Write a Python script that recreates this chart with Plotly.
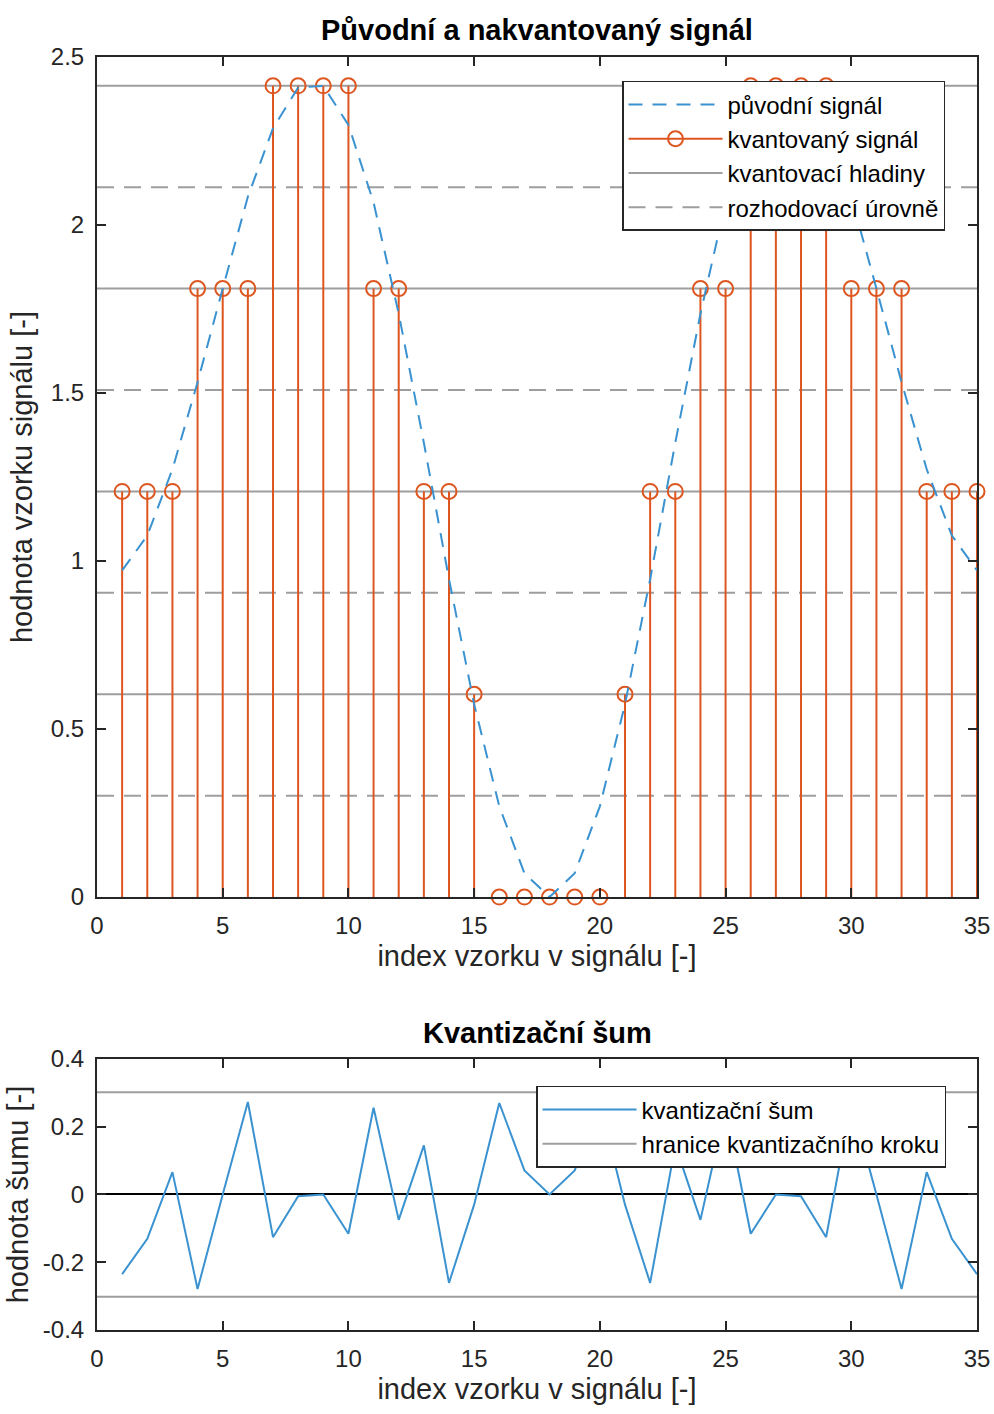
import plotly.graph_objects as go

# ---------------- data ----------------
sample_index = list(range(1, 36))

original_signal = [0.972, 1.076, 1.273, 1.532, 1.811, 2.084, 2.288, 2.409, 2.414, 2.298,
                   2.067, 1.736, 1.352, 0.946, 0.574, 0.270, 0.071, 0.000, 0.071, 0.270,
                   0.574, 0.946, 1.352, 1.736, 2.067, 2.298, 2.414, 2.409, 2.288, 2.084,
                   1.811, 1.532, 1.273, 1.076, 0.972]

quantized_signal = [1.2071, 1.2071, 1.2071, 1.8107, 1.8107, 1.8107, 2.4142, 2.4142, 2.4142, 2.4142,
                    1.8107, 1.8107, 1.2071, 1.2071, 0.6036, 0.0, 0.0, 0.0, 0.0, 0.0,
                    0.6036, 1.2071, 1.2071, 1.8107, 1.8107, 2.4142, 2.4142, 2.4142, 2.4142, 1.8107,
                    1.8107, 1.8107, 1.2071, 1.2071, 1.2071]

quant_noise = [-0.235, -0.131, 0.066, -0.279, 0.000, 0.273, -0.126, -0.005, 0.000, -0.116,
               0.256, -0.075, 0.145, -0.261, -0.030, 0.270, 0.071, 0.000, 0.071, 0.270,
               -0.030, -0.261, 0.145, -0.075, 0.256, -0.116, 0.000, -0.005, -0.126, 0.273,
               0.000, -0.279, 0.066, -0.131, -0.235]

quant_levels = [0.6036, 1.2071, 1.8107, 2.4142]
decision_levels = [0.3018, 0.9053, 1.5089, 2.1125]
step_bounds = [-0.3018, 0.3018]

x_range = [0, 35]
x_ticks = [0, 5, 10, 15, 20, 25, 30, 35]
y1_ticks = [0, 0.5, 1, 1.5, 2, 2.5]
y1_ticktext = ["0", "0.5", "1", "1.5", "2", "2.5"]
y2_ticks = [-0.4, -0.2, 0, 0.2, 0.4]
y2_ticktext = ["-0.4", "-0.2", "0", "0.2", "0.4"]

title_top = "Původní a nakvantovaný signál"
title_bottom = "Kvantizační šum"
xlabel = "index vzorku v signálu [-]"
ylabel_top = "hodnota vzorku signálu [-]"
ylabel_bottom = "hodnota šumu [-]"

# ---------------- styles ----------------
BLUE = "#3A92D0"
ORANGE = "#DD5620"
GRAY = "#9E9E9E"
AXC = "#262626"
FONT = "Liberation Sans, Arial, sans-serif"


def hlines(levels):
    xs, ys = [], []
    for v in levels:
        xs += [x_range[0], x_range[1], None]
        ys += [v, v, None]
    return xs, ys


fig = go.Figure()

# quantization levels (top)
xs, ys = hlines(quant_levels)
fig.add_trace(go.Scatter(x=xs, y=ys, mode="lines", name="kvantovací hladiny",
                         line=dict(color=GRAY, width=2), xaxis="x", yaxis="y",
                         legend="legend", legendrank=3))
xs, ys = hlines(decision_levels)
fig.add_trace(go.Scatter(x=xs, y=ys, mode="lines", name="rozhodovací úrovně",
                         line=dict(color=GRAY, width=2, dash="17px,10px"), xaxis="x", yaxis="y",
                         legend="legend", legendrank=4))

# stems
fig.add_trace(go.Scatter(x=sample_index, y=quantized_signal, mode="markers",
                         marker=dict(symbol="circle-open", size=15, color=ORANGE,
                                     line=dict(width=2, color=ORANGE)),
                         error_y=dict(type="data", symmetric=False,
                                      array=[0] * len(quantized_signal),
                                      arrayminus=quantized_signal,
                                      width=0, thickness=2, color=ORANGE),
                         cliponaxis=False, showlegend=False, xaxis="x", yaxis="y"))
# legend proxy for stems
fig.add_trace(go.Scatter(x=[None], y=[None], mode="lines+markers", name="kvantovaný signál",
                         line=dict(color=ORANGE, width=2),
                         marker=dict(symbol="circle-open", size=15, color=ORANGE,
                                     line=dict(width=2, color=ORANGE)),
                         xaxis="x", yaxis="y", legend="legend", legendrank=2))

# original signal
fig.add_trace(go.Scatter(x=sample_index, y=original_signal, mode="lines", name="původní signál",
                         line=dict(color=BLUE, width=2, dash="14px,10px"),
                         xaxis="x", yaxis="y", legend="legend", legendrank=1))

# bottom: noise
fig.add_trace(go.Scatter(x=sample_index, y=quant_noise, mode="lines", name="kvantizační šum",
                         line=dict(color=BLUE, width=2), xaxis="x2", yaxis="y2",
                         legend="legend2", legendrank=1))
xs, ys = hlines(step_bounds)
fig.add_trace(go.Scatter(x=xs, y=ys, mode="lines", name="hranice kvantizačního kroku",
                         line=dict(color=GRAY, width=2), xaxis="x2", yaxis="y2",
                         legend="legend2", legendrank=2))

TOP_DOM = [0.3401, 1.0]
BOT_DOM = [0.0, 0.2129]

axis_common = dict(showline=True, linecolor=AXC, linewidth=2, mirror="ticks",
                   ticks="inside", ticklen=9, tickwidth=2, tickcolor=AXC,
                   showgrid=False, automargin=False,
                   tickfont=dict(family=FONT, size=24, color=AXC),
                   title_font=dict(family=FONT, size=29, color=AXC))

fig.update_layout(
    width=994, height=1414,
    margin=dict(l=97, r=17, t=57, b=84),
    paper_bgcolor="white", plot_bgcolor="white",
    font=dict(family=FONT, color=AXC),
    xaxis=dict(domain=[0, 1], anchor="y", range=x_range, tickvals=x_ticks, zeroline=False,
               title=dict(text=xlabel, standoff=8), ticklabelstandoff=6, **axis_common),
    yaxis=dict(domain=TOP_DOM, anchor="x", range=[0, 2.5], tickvals=y1_ticks, zeroline=False,
               ticktext=y1_ticktext, title=dict(text=ylabel_top, standoff=10),
               ticklabelstandoff=6, **axis_common),
    xaxis2=dict(domain=[0, 1], anchor="y2", range=x_range, tickvals=x_ticks, zeroline=False,
                title=dict(text=xlabel, standoff=8), ticklabelstandoff=6, **axis_common),
    yaxis2=dict(domain=BOT_DOM, anchor="x2", range=[-0.4, 0.4], tickvals=y2_ticks,
                ticktext=y2_ticktext, title=dict(text=ylabel_bottom, standoff=6),
                ticklabelstandoff=6, **axis_common,
                zeroline=True, zerolinecolor="black", zerolinewidth=2),
    legend=dict(x=0.5966, y=0.9812, xanchor="left", yanchor="top",
                bgcolor="white", bordercolor=AXC, borderwidth=1.5,
                font=dict(family=FONT, size=24, color="black"),
                itemwidth=94, tracegroupgap=0, traceorder="normal"),
    legend2=dict(x=0.4989, y=0.1917, xanchor="left", yanchor="top",
                 bgcolor="white", bordercolor=AXC, borderwidth=1.5,
                 font=dict(family=FONT, size=24, color="black"),
                 itemwidth=94, tracegroupgap=0, traceorder="normal"),
    annotations=[
        dict(text="<b>%s</b>" % title_top, xref="paper", yref="paper", x=0.5, y=TOP_DOM[1],
             xanchor="center", yanchor="middle", yshift=27, showarrow=False,
             font=dict(family=FONT, size=29, color="black")),
        dict(text="<b>%s</b>" % title_bottom, xref="paper", yref="paper", x=0.5, y=BOT_DOM[1],
             xanchor="center", yanchor="middle", yshift=26, showarrow=False,
             font=dict(family=FONT, size=29, color="black")),
    ],
)

fig.write_html("out.html")
